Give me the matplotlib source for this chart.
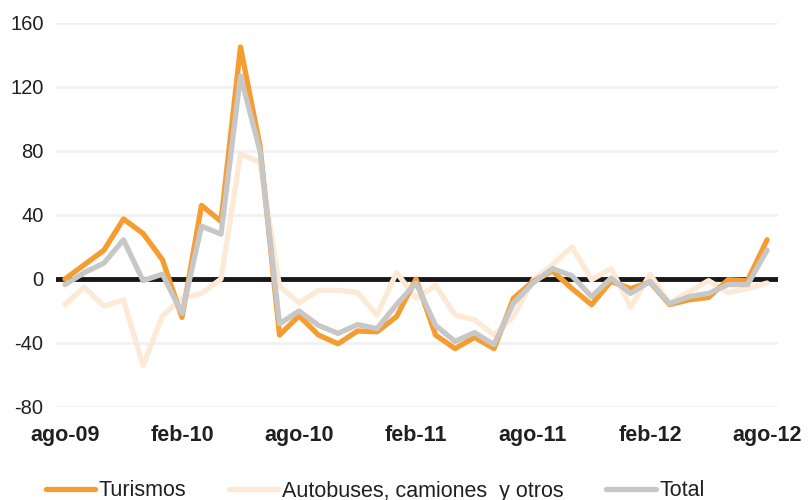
import numpy as np
import matplotlib
matplotlib.use('Agg')
from matplotlib import pyplot as plt

plt.rcParams['font.family'] = ['Liberation Sans', 'DejaVu Sans']

# --- Datos (variación interanual, %) ago-09 .. ago-12 ---
tick_labels = ['ago-09', 'feb-10', 'ago-10', 'feb-11', 'ago-11', 'feb-12', 'ago-12']

turismos = [0, 9, 18, 37.5, 28.5, 12, -24, 46, 36, 145, 83,
            -35, -23, -35, -40.5, -32.5, -33, -23.5, 0,
            -35, -43.5, -36.5, -43.5, -12, -1.5, 5, -6, -16,
            -1.5, -6, -2, -16, -13, -11.5, -0.5, -1, 24.5]

autobuses = [-16, -5, -17, -13, -54, -23, -12, -9, 0, 78, 73,
             -4.5, -15, -7, -7, -8.5, -22.5, 4, -12,
             -4, -22.5, -25.5, -35, -23.5, -0.5, 9, 20, -0.5,
             6.5, -17.5, 3, -15, -8, -1, -8.5, -6, -2.5]

total = [-3.5, 4, 10, 24.5, -1, 3, -21.5, 33, 28, 127, 80,
         -28, -20, -29, -34, -28.5, -31, -16, -2.5,
         -29, -39, -33.5, -41, -15, -2.5, 6.5, 2, -11,
         0.5, -9, -1.5, -15.5, -11, -9, -3.5, -3.5, 18]

naranja = '#F59D30'
crema = '#FDEAD6'
gris = '#C7C7C7'
texto = '#231F20'

x = np.arange(len(total))

fig = plt.figure(figsize=(8.09, 5.0), dpi=100)
ax = fig.add_axes([56 / 809, 93 / 500, 722 / 809, 384 / 500])

# --- Rejilla y línea de cero ---
for v in range(-80, 161, 40):
    if v != 0:
        ax.axhline(v, color='#F1F1F1', lw=2, zorder=0)
ax.axhline(0, color='#1A1718', lw=3.5, zorder=1)

# --- Series ---
ax.plot(x, autobuses, color=crema, lw=3.8, solid_joinstyle='round',
        solid_capstyle='round', zorder=2, label='Autobuses, camiones  y otros')
ax.plot(x, turismos, color=naranja, lw=3.8, solid_joinstyle='round',
        solid_capstyle='round', zorder=3, label='Turismos')
ax.plot(x, total, color=gris, lw=3.8, solid_joinstyle='round',
        solid_capstyle='round', zorder=4, label='Total')

ax.set_xlim(-0.46, 36.56)
ax.set_ylim(-80, 160)
ax.set_yticks(range(-80, 161, 40))
ax.set_yticklabels([str(v) for v in range(-80, 161, 40)], fontsize=14.5, color=texto)
ax.set_xticks(range(0, 37, 6))
ax.set_xticklabels(tick_labels, fontsize=15.5, fontweight='bold', color=texto)
ax.tick_params(axis='y', length=0, pad=9)
ax.tick_params(axis='x', length=0, pad=13)
for s in ax.spines.values():
    s.set_visible(False)

# --- Leyenda ---
h, l = ax.get_legend_handles_labels()
orden = [1, 0, 2]
leg = fig.legend([h[i] for i in orden], [l[i] for i in orden],
                 loc='center', bbox_to_anchor=(375 / 809, 1 - 491 / 500),
                 ncol=3, frameon=False, fontsize=15.5, handlelength=2.3,
                 handletextpad=0.15, columnspacing=2.0, borderaxespad=0)
for t in leg.get_texts():
    t.set_color(texto)

fig.savefig('out.png', dpi=100)
